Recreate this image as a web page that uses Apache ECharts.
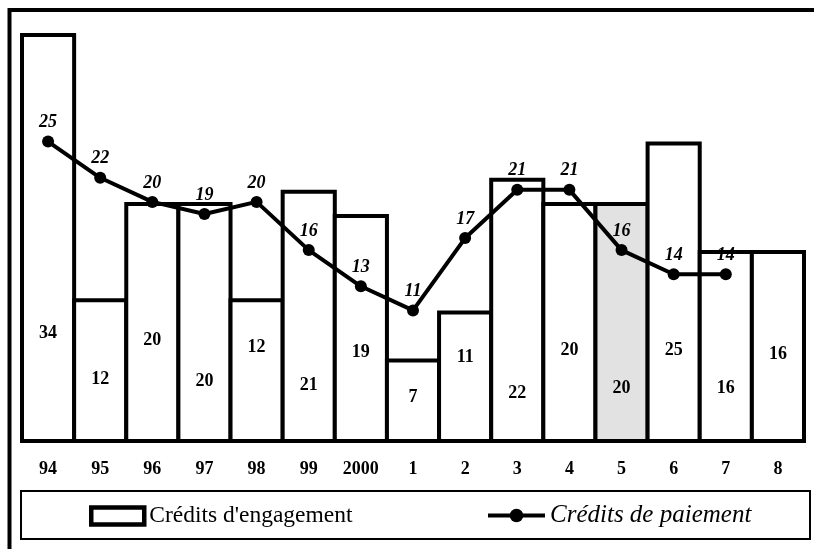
<!DOCTYPE html>
<html>
<head>
<meta charset="utf-8">
<script src="https://cdn.jsdelivr.net/npm/echarts@6/dist/echarts.min.js"></script>
<style>
html,body{margin:0;padding:0;background:#fff;}
#chart{width:814px;height:549px;}
</style>
</head>
<body>
<div id="chart"></div>
<script>
// ---- data ----
var years = ['94','95','96','97','98','99','2000','1','2','3','4','5','6','7','8'];
var engagement = [34,12,20,20,12,21,19,7,11,22,20,20,25,16,16];
var paiement = [25,22,20,19,20,16,13,11,17,21,21,16,14,14,null];
var engagementName = "Crédits d'engagement";
var paiementName = 'Crédits de paiement';

// ---- styles ----
var SERIF = '"Liberation Serif","Times New Roman",serif';
var labelLift = [101,55,94,53,87,49,82,37,77,41,84,46,84,46,80]; // px above baseline for inner labels
var highlightIndex = 11;
var GRID_LEFT = 22, GRID_RIGHT = 10, BORDER = 4;
var bandWidth = (814 - GRID_LEFT - GRID_RIGHT) / years.length;

var barData = engagement.map(function (v, i) {
  var item = { value: v, label: { distance: labelLift[i] } };
  if (i === highlightIndex) item.itemStyle = { color: '#e2e2e2' };
  return item;
});

var chart = echarts.init(document.getElementById('chart'), null, { renderer: 'canvas' });
chart.setOption({
  animation: false,
  backgroundColor: '#fff',
  textStyle: { fontFamily: SERIF, color: '#000' },
  grid: { left: GRID_LEFT, right: GRID_RIGHT, top: 9, bottom: 106, containLabel: false },
  xAxis: {
    type: 'category',
    data: years,
    boundaryGap: true,
    axisLine: { show: false },
    axisTick: { show: false },
    axisLabel: { color: '#000', fontFamily: SERIF, fontWeight: 'bold', fontSize: 18, margin: 17 }
  },
  yAxis: {
    type: 'value',
    min: 0, max: 36,
    show: false,
    splitLine: { show: false }
  },
  legend: [
    {
      left: 89,
      top: 504,
      padding: 0,
      itemWidth: 53,
      itemHeight: 17,
      itemGap: 0,
      itemStyle: { borderWidth: 4.5, borderColor: '#000', color: '#fff' },
      textStyle: { color: '#000', fontFamily: SERIF, fontSize: 23.5 },
      data: [{ name: engagementName, icon: 'rect' }]
    },
    {
      left: 486,
      top: 503,
      padding: 0,
      itemWidth: 57,
      itemHeight: 17,
      lineStyle: { width: 4, color: '#000' },
      itemStyle: { color: '#000' },
      textStyle: { color: '#000', fontFamily: SERIF, fontSize: 25, fontStyle: 'italic' },
      data: [{ name: paiementName }]
    }
  ],
  graphic: [
    { type: 'rect', shape: { x: 21, y: 491, width: 789, height: 48 },
      style: { fill: null, stroke: '#000', lineWidth: 2 }, z: -1 },
    { type: 'line', shape: { x1: 8, y1: 10, x2: 814, y2: 10 }, style: { stroke: '#000', lineWidth: 4 } },
    { type: 'line', shape: { x1: 9.5, y1: 8, x2: 9.5, y2: 549 }, style: { stroke: '#000', lineWidth: 4 } }
  ],
  series: [
    {
      name: engagementName,
      type: 'bar',
      data: barData,
      barWidth: bandWidth + BORDER,
      barCategoryGap: 0,
      itemStyle: { color: '#fff', borderColor: '#000', borderWidth: BORDER },
      label: {
        show: true,
        position: 'insideBottom',
        color: '#000',
        fontFamily: SERIF,
        fontWeight: 'bold',
        fontSize: 18
      },
      z: 2
    },
    {
      name: paiementName,
      type: 'line',
      data: paiement,
      symbol: 'circle',
      symbolSize: 12,
      connectNulls: false,
      lineStyle: { color: '#000', width: 4 },
      itemStyle: { color: '#000' },
      label: {
        show: true,
        position: 'top',
        distance: 4,
        color: '#000',
        fontFamily: SERIF,
        fontWeight: 'bold',
        fontStyle: 'italic',
        fontSize: 18
      },
      z: 5
    }
  ]
});
</script>
</body>
</html>
